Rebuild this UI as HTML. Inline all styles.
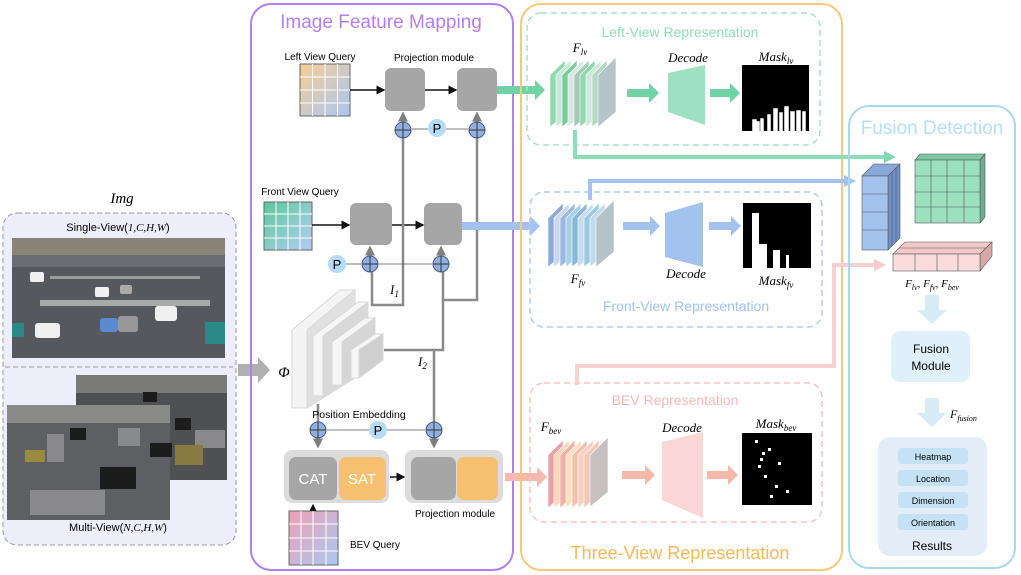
<!DOCTYPE html>
<html><head><meta charset="utf-8"><style>
body{margin:0;background:#fff}
svg{display:block;font-family:"Liberation Sans",sans-serif}
.it{font-family:"Liberation Serif",serif;font-style:italic}
</style></head><body>
<svg width="1021" height="575" viewBox="0 0 1021 575" xmlns="http://www.w3.org/2000/svg">
<defs>
<marker id="ab" markerWidth="6" markerHeight="6" refX="5" refY="3" orient="auto"><path d="M0,0L6,3L0,6z" fill="#111"/></marker>
<marker id="ag" markerWidth="4" markerHeight="4" refX="3" refY="2" orient="auto"><path d="M0,0L4,2L0,4z" fill="#808080"/></marker>
<marker id="agr" markerWidth="3" markerHeight="3" refX="2" refY="1.5" orient="auto"><path d="M0,0L3,1.5L0,3z" fill="#7fd8ae"/></marker>
<marker id="abl" markerWidth="3" markerHeight="3" refX="2" refY="1.5" orient="auto"><path d="M0,0L3,1.5L0,3z" fill="#a4c2ee"/></marker>
<marker id="apk" markerWidth="3" markerHeight="3" refX="2" refY="1.5" orient="auto"><path d="M0,0L3,1.5L0,3z" fill="#f8cccc"/></marker>
<linearGradient id="qL" x1="0" y1="0" x2="1" y2="1"><stop offset="0" stop-color="#f7cd95"/><stop offset="1" stop-color="#a9c6f3"/></linearGradient>
<linearGradient id="qF" x1="0" y1="0" x2="1" y2="1"><stop offset="0" stop-color="#5cc89a"/><stop offset="1" stop-color="#b4cdf5"/></linearGradient>
<linearGradient id="qB" x1="0" y1="0" x2="1" y2="1"><stop offset="0" stop-color="#eea0b5"/><stop offset="1" stop-color="#aac8f0"/></linearGradient>
</defs>

<!-- Left input panel -->
<text x="122" y="203" class="it" font-size="15" text-anchor="middle">Img</text>
<rect x="3" y="213" width="233" height="332" rx="14" fill="#eeedfa" stroke="#999" stroke-dasharray="5,3"/>
<text x="118" y="231" font-size="11" text-anchor="middle">Single-View(<tspan class="it">1,C,H,W</tspan>)</text>
<rect x="12" y="238" width="213" height="120" fill="#55585c"/>
<rect x="12" y="238" width="213" height="25" fill="#8a8478"/>
<rect x="12" y="255" width="213" height="12" fill="#6a6e72"/>
<g fill="#e0e0e0">
<rect x="40" y="300" width="170" height="6" opacity="0.6"/>
<rect x="50" y="276" width="150" height="3" opacity="0.5"/>
</g>
<g fill="#f0f0f0">
<rect x="35" y="323" width="25" height="15" rx="3"/><rect x="100" y="318" width="18" height="14" rx="3" fill="#5a8ad0"/>
<rect x="118" y="316" width="20" height="16" rx="3" fill="#999"/><rect x="155" y="306" width="22" height="15" rx="3"/>
<rect x="95" y="287" width="14" height="10" rx="2"/><rect x="120" y="285" width="12" height="9" rx="2" fill="#aaa"/>
<rect x="30" y="272" width="14" height="10" rx="2"/><rect x="205" y="322" width="20" height="22" fill="#2a8a8a"/>
<rect x="12" y="323" width="12" height="14" fill="#2a8a8a"/>
</g>
<line x1="5" y1="367" x2="233" y2="367" stroke="#999" stroke-dasharray="5,3"/>
<rect x="76" y="375" width="151" height="105" fill="#4e5052"/>
<rect x="76" y="375" width="151" height="18" fill="#7a7a78"/>
<rect x="7" y="405" width="163" height="115" fill="#5d5f62"/>
<rect x="7" y="405" width="163" height="18" fill="#8a8a88"/>
<g fill="#1c1c1c"><rect x="70" y="428" width="16" height="12"/><rect x="100" y="467" width="36" height="22"/><rect x="150" y="443" width="22" height="14"/><rect x="175" y="418" width="16" height="12"/><rect x="143" y="392" width="14" height="10"/></g>
<g fill="#8a8a8c"><rect x="47" y="434" width="17" height="28"/><rect x="118" y="428" width="22" height="18"/><rect x="30" y="490" width="75" height="25"/><rect x="195" y="430" width="30" height="18"/></g>
<rect x="25" y="450" width="20" height="12" fill="#9a8a40"/><rect x="175" y="445" width="28" height="20" fill="#8a7a40"/>
<text x="118" y="531" font-size="11" text-anchor="middle">Multi-View(<tspan class="it">N,C,H,W</tspan>)</text>
<path d="M238,364 h20 v-7 l12,13 l-12,13 v-7 h-20z" fill="#b0b0b0"/>
<text x="284" y="377" class="it" font-size="15" text-anchor="middle">Φ</text>

<!-- Purple panel -->
<rect x="251" y="4" width="262" height="566" rx="20" fill="none" stroke="#b07ff0" stroke-width="2"/>
<text x="381" y="28" font-size="19" fill="#b57ef0" text-anchor="middle">Image Feature Mapping</text>

<text x="320" y="60" font-size="10" text-anchor="middle">Left View Query</text>
<rect x="300" y="64" width="50" height="52" fill="url(#qL)" stroke="#666"/>
<path d="M312.5,64v52M325,64v52M337.5,64v52M300,77h50M300,90h50M300,103h50" stroke="#fff" stroke-width="1"/>
<text x="434" y="61" font-size="10" text-anchor="middle">Projection module</text>
<rect x="385" y="68" width="40" height="43" rx="6" fill="#a6a6a6"/>
<rect x="457" y="68" width="40" height="43" rx="6" fill="#a6a6a6"/>
<line x1="350" y1="90" x2="384" y2="90" stroke="#111" stroke-width="1.5" marker-end="url(#ab)"/>
<line x1="425" y1="90" x2="456" y2="90" stroke="#111" stroke-width="1.5" marker-end="url(#ab)"/>

<text x="300" y="195" font-size="10" text-anchor="middle">Front View Query</text>
<rect x="264" y="202" width="48" height="48" fill="url(#qF)" stroke="#666"/>
<path d="M276,202v48M288,202v48M300,202v48M264,214h48M264,226h48M264,238h48" stroke="#fff"/>
<rect x="350" y="203" width="42" height="42" rx="6" fill="#a6a6a6"/>
<rect x="424" y="203" width="38" height="42" rx="6" fill="#a6a6a6"/>
<line x1="312" y1="225" x2="349" y2="225" stroke="#111" stroke-width="1.5" marker-end="url(#ab)"/>
<line x1="392" y1="225" x2="423" y2="225" stroke="#111" stroke-width="1.5" marker-end="url(#ab)"/>

<!-- gray feature lines -->
<g stroke="#8a8a8a" stroke-width="2.5" fill="none">
<path d="M403,138 V305 H372 V272"/>
<path d="M477,138 V300 H443 V272"/>
<path d="M384,350 H443 V300"/>
<path d="M434,350 V422"/>
<path d="M318,404 V422"/>
<path d="M403,122 V114" marker-end="url(#ag)"/>
<path d="M477,122 V114" marker-end="url(#ag)"/>
<path d="M370,256 V248" marker-end="url(#ag)"/>
<path d="M441,256 V248" marker-end="url(#ag)"/>
<path d="M318,438 V446" marker-end="url(#ag)"/>
<path d="M434,438 V446" marker-end="url(#ag)"/>
</g>
<g stroke="#555" stroke-width="0.8">
<line x1="428" y1="129" x2="412" y2="129"/><line x1="446" y1="129" x2="468" y2="129"/>
<line x1="346" y1="264" x2="361" y2="264"/><line x1="379" y1="264" x2="432" y2="264"/>
<line x1="369" y1="430" x2="327" y2="430"/><line x1="387" y1="430" x2="425" y2="430"/>
</g>
<g fill="#8fb0e0" stroke="#4a5a80" stroke-width="1">
<circle cx="403" cy="130" r="8"/><circle cx="477" cy="130" r="8"/>
<circle cx="370" cy="264" r="8"/><circle cx="441" cy="264" r="8"/>
<circle cx="318" cy="430" r="8"/><circle cx="434" cy="430" r="8"/>
</g>
<path d="M395,130h16M403,122v16M469,130h16M477,122v16M362,264h16M370,256v16M433,264h16M441,256v16M310,430h16M318,422v16M426,430h16M434,422v16" stroke="#333" stroke-width="1"/>
<g fill="#b6dcf5"><circle cx="437" cy="128" r="9"/><circle cx="337" cy="264" r="9"/><circle cx="378" cy="430" r="9"/></g>
<g font-size="13" text-anchor="middle"><text x="437" y="133">P</text><text x="337" y="269">P</text><text x="378" y="435">P</text></g>
<text x="390" y="294" class="it" font-size="13">I<tspan font-size="9" dy="3">1</tspan></text>
<text x="418" y="366" class="it" font-size="13">I<tspan font-size="9" dy="3">2</tspan></text>

<!-- backbone -->
<g stroke="#d8d8d8" stroke-width="1">
<path d="M292,330 L340,290 L355,290 L307,330 V408 L292,408Z" fill="#f4f4f4"/>
<path d="M307,330 L355,290 V378 L307,408Z" fill="#e0e0e0"/>
<path d="M313,336 L358,302 L368,302 L323,336 V396 L313,396Z" fill="#f6f6f6"/>
<path d="M323,336 L368,302 V368 L323,396Z" fill="#d9d9d9"/>
<path d="M332,342 L365,318 L375,318 L342,342 V385 L332,385Z" fill="#f6f6f6"/>
<path d="M342,342 L375,318 V362 L342,385Z" fill="#d6d6d6"/>
<path d="M351,350 L375,334 L383,334 L359,350 V378 L351,378Z" fill="#f6f6f6"/>
<path d="M359,350 L383,334 V360 L359,378Z" fill="#cfcfcf"/>
</g>
<text x="359" y="418" font-size="10.5" text-anchor="middle">Position Embedding</text>

<rect x="284" y="450" width="105" height="53" rx="8" fill="#dcdcdc"/>
<rect x="289" y="457" width="48" height="43" rx="7" fill="#a6a6a6"/>
<rect x="339" y="457" width="47" height="43" rx="7" fill="#f7c070"/>
<text x="313" y="484" font-size="15" fill="#fff" text-anchor="middle">CAT</text>
<text x="362" y="484" font-size="15" fill="#fff" text-anchor="middle">SAT</text>
<line x1="390" y1="477" x2="404" y2="477" stroke="#111" stroke-width="1.5" marker-end="url(#ab)"/>
<rect x="405" y="450" width="98" height="53" rx="8" fill="#dcdcdc"/>
<rect x="411" y="457" width="45" height="43" rx="7" fill="#a6a6a6"/>
<rect x="457" y="457" width="41" height="43" rx="7" fill="#f7c070"/>
<text x="455" y="517" font-size="10" text-anchor="middle">Projection module</text>
<rect x="289" y="511" width="49" height="54" fill="url(#qB)" stroke="#666"/>
<path d="M301,511v54M313,511v54M326,511v54M289,524h49M289,538h49M289,551h49" stroke="#fff"/>
<line x1="313" y1="510" x2="313" y2="505" stroke="#111" stroke-width="1.2" marker-end="url(#ab)"/>
<text x="375" y="548" font-size="10" text-anchor="middle">BEV Query</text>

<!-- connector bars -->
<path d="M497,86h38v-6l10,10l-10,10v-6h-38z" fill="#6fd3a5"/>
<path d="M462,222h68v-6l10,10l-10,10v-6h-68z" fill="#a4c2ee"/>
<path d="M505,473h32v-6l10,10l-10,10v-6h-32z" fill="#f6b8b0"/>

<!-- Orange panel -->
<rect x="521" y="4" width="321" height="566" rx="20" fill="none" stroke="#f8c97a" stroke-width="2"/>
<text x="680" y="559" font-size="18" fill="#f6b955" text-anchor="middle">Three-View Representation</text>

<!-- Left view -->
<rect x="527" y="13" width="293" height="132" rx="14" fill="none" stroke="#a7e3c8" stroke-width="1.5" stroke-dasharray="6,4"/>
<text x="680" y="37" font-size="14" fill="#8fdcb8" text-anchor="middle">Left-View Representation</text>
<g stroke="#fff" stroke-width="0.6">
<path d="M550,75 l15,-15 v55 l-15,12z" fill="#8fd8b0"/>
<path d="M556,75 l15,-15 v55 l-15,12z" fill="#c8e8d8"/>
<path d="M562,75 l15,-15 v55 l-15,12z" fill="#7cc9a0"/>
<path d="M568,75 l15,-15 v55 l-15,12z" fill="#d5e9dc"/>
<path d="M574,75 l15,-15 v55 l-15,12z" fill="#a8c8b8"/>
<path d="M580,75 l15,-15 v55 l-15,12z" fill="#8fd8b0"/>
<path d="M586,75 l15,-15 v55 l-15,12z" fill="#d0e8dc"/>
<path d="M592,75 l15,-15 v55 l-15,12z" fill="#b5d8c5"/>
<path d="M598,75 l18,-18 v55 l-18,15z" fill="#b5c4c8"/>
</g>
<text x="580" y="52" class="it" font-size="13" text-anchor="middle">F<tspan font-size="9" dy="3">lv</tspan></text>
<path d="M627,89h22v-6l10,10l-10,10v-6h-22z" fill="#6fd3a5"/>
<path d="M668,73 L705,65 V125 L668,112Z" fill="#9de0c2"/>
<text x="688" y="62" class="it" font-size="13" text-anchor="middle">Decode</text>
<path d="M710,89h20v-6l10,10l-10,10v-6h-20z" fill="#6fd3a5"/>
<rect x="742" y="65" width="67" height="66" fill="#000"/>
<path d="M753,131v-11h3v11M757,131v-9h2v9M761,131v-12h2v12M768,131v-16h2v16M774,131v-22h3v22M780,131v-18h2v18M785,131v-24h3v24M791,131v-19h3v19M797,131v-20h3v20M803,131v-19h2v19" fill="#fff" stroke="#fff" stroke-width="1.5"/>
<text x="776" y="61" class="it" font-size="13" text-anchor="middle">Mask<tspan font-size="9" dy="3">lv</tspan></text>
<path d="M575,130 V157 H892" stroke="#8fdcb8" stroke-width="4" fill="none" marker-end="url(#agr)"/>

<!-- Front view -->
<rect x="530" y="192" width="292" height="135" rx="14" fill="none" stroke="#b3cbf2" stroke-width="1.5" stroke-dasharray="6,4"/>
<text x="686" y="311" font-size="14" fill="#a4c2ee" text-anchor="middle">Front-View Representation</text>
<g stroke="#fff" stroke-width="0.6">
<path d="M548,218 l15,-15 v52 l-15,12z" fill="#8fa8d8"/>
<path d="M554,218 l15,-15 v52 l-15,12z" fill="#c8d8f0"/>
<path d="M560,218 l15,-15 v52 l-15,12z" fill="#9ab8e0"/>
<path d="M566,218 l15,-15 v52 l-15,12z" fill="#a8d0e8"/>
<path d="M572,218 l15,-15 v52 l-15,12z" fill="#88b8d8"/>
<path d="M578,218 l15,-15 v52 l-15,12z" fill="#c8dcf0"/>
<path d="M584,218 l15,-15 v52 l-15,12z" fill="#9cc8e0"/>
<path d="M590,218 l15,-15 v52 l-15,12z" fill="#c0dcec"/>
<path d="M596,218 l18,-18 v52 l-18,15z" fill="#b5c2c8"/>
</g>
<text x="578" y="283" class="it" font-size="13" text-anchor="middle">F<tspan font-size="9" dy="3">fv</tspan></text>
<path d="M623,222h27v-6l10,10l-10,10v-6h-27z" fill="#a4c2ee"/>
<path d="M665,213 L703,202 V267 L665,257Z" fill="#a4c2ee"/>
<text x="686" y="278" class="it" font-size="13" text-anchor="middle">Decode</text>
<path d="M709,222h22v-6l10,10l-10,10v-6h-22z" fill="#a4c2ee"/>
<rect x="743" y="203" width="68" height="65" fill="#000"/>
<path d="M752,268V213h7V244h8v24M773,268v-18h7v18M786,268v-13h3v13" fill="#fff"/>
<text x="776" y="285" class="it" font-size="13" text-anchor="middle">Mask<tspan font-size="9" dy="3">fv</tspan></text>
<path d="M590,200 V181 H852" stroke="#a4c2ee" stroke-width="4" fill="none" marker-end="url(#abl)"/>

<!-- BEV -->
<rect x="530" y="383" width="292" height="139" rx="14" fill="none" stroke="#f6c4c4" stroke-width="1.5" stroke-dasharray="6,4"/>
<text x="675" y="405" font-size="14" fill="#f6b8b8" text-anchor="middle">BEV Representation</text>
<g stroke="#fff" stroke-width="0.6">
<path d="M548,455 l15,-15 v55 l-15,13z" fill="#eaa0a8"/>
<path d="M554,455 l15,-15 v55 l-15,13z" fill="#f8d8b8"/>
<path d="M560,455 l15,-15 v55 l-15,13z" fill="#f0b0a8"/>
<path d="M566,455 l15,-15 v55 l-15,13z" fill="#f8e0c0"/>
<path d="M572,455 l15,-15 v55 l-15,13z" fill="#f0c0b0"/>
<path d="M578,455 l15,-15 v55 l-15,13z" fill="#f8d0c0"/>
<path d="M584,455 l15,-15 v55 l-15,13z" fill="#f4c8b8"/>
<path d="M590,455 l18,-18 v55 l-18,15z" fill="#c8c0c0"/>
</g>
<text x="551" y="431" class="it" font-size="13" text-anchor="middle">F<tspan font-size="9" dy="3">bev</tspan></text>
<path d="M622,471h23v-6l10,10l-10,10v-6h-23z" fill="#f6b8a8"/>
<path d="M662,442 L703,432 V518 L662,500Z" fill="#fad6d6"/>
<text x="682" y="432" class="it" font-size="13" text-anchor="middle">Decode</text>
<path d="M707,471h21v-6l10,10l-10,10v-6h-21z" fill="#f6b8a8"/>
<rect x="742" y="433" width="70" height="72" fill="#000"/>
<g fill="#fff"><rect x="755" y="440" width="3" height="3"/><rect x="762" y="452" width="3" height="3"/><rect x="768" y="448" width="3" height="3"/><rect x="758" y="465" width="3" height="3"/><rect x="764" y="475" width="3" height="3"/><rect x="778" y="462" width="3" height="3"/><rect x="775" y="485" width="3" height="3"/><rect x="770" y="495" width="3" height="3"/><rect x="786" y="490" width="3" height="3"/><rect x="760" y="458" width="3" height="3"/></g>
<text x="776" y="428" class="it" font-size="13" text-anchor="middle">Mask<tspan font-size="9" dy="3">bev</tspan></text>
<path d="M577,385 V366 H834 V265 H882" stroke="#f8d0d0" stroke-width="4" fill="none" marker-end="url(#apk)"/>

<!-- Fusion panel -->
<rect x="849" y="106" width="166" height="462" rx="20" fill="none" stroke="#a8d8f0" stroke-width="2"/>
<text x="932" y="134" font-size="19" fill="#b6dff5" text-anchor="middle">Fusion Detection</text>
<path d="M915,160 l5,-6 h65 l-5,6z" fill="#7dc8a4" stroke="#555" stroke-width="0.6"/>
<path d="M980,160 l5,-6 v63 l-5,6z" fill="#6ab090" stroke="#555" stroke-width="0.6"/>
<rect x="915" y="160" width="65" height="63" fill="#9de0c0" stroke="#555" stroke-width="0.6"/>
<path d="M931,160v63M947,160v63M964,160v63M915,176h65M915,192h65M915,207h65" stroke="#555" stroke-width="0.6"/>
<path d="M862,176 l12,-12 h26 l-12,12z" fill="#8aa8d8" stroke="#555" stroke-width="0.6"/>
<path d="M888,176 l12,-12 v74 l-12,12z" fill="#7090c8" stroke="#555" stroke-width="0.6"/>
<rect x="862" y="176" width="26" height="74" fill="#a4c2ee" stroke="#555" stroke-width="0.6"/>
<path d="M862,194h26M862,212h26M862,230h26M892,172v74M896,168v74" stroke="#555" stroke-width="0.6"/>
<path d="M893,254 l12,-12 h87 l-12,12z" fill="#f0c8c8" stroke="#555" stroke-width="0.6"/>
<path d="M980,254 l12,-12 v14 l-12,15z" fill="#d8a8a8" stroke="#555" stroke-width="0.6"/>
<rect x="893" y="254" width="87" height="17" fill="#fadcdc" stroke="#555" stroke-width="0.6"/>
<path d="M915,254v17M937,254v17M958,254v17M899,248h87" stroke="#555" stroke-width="0.6"/>
<text x="932" y="287" class="it" font-size="11" text-anchor="middle">F<tspan font-size="8" dy="3">lv</tspan><tspan dy="-3">, F</tspan><tspan font-size="8" dy="3">fv</tspan><tspan dy="-3">, F</tspan><tspan font-size="8" dy="3">bev</tspan></text>
<path d="M925,295h14v15h8l-15,14l-15,-14h8z" fill="#d8ecf8"/>
<rect x="891" y="331" width="79" height="51" rx="9" fill="#dff0fa"/>
<text x="931" y="353" font-size="12" text-anchor="middle">Fusion</text>
<text x="931" y="370" font-size="12" text-anchor="middle">Module</text>
<path d="M925,398h14v15h8l-15,14l-15,-14h8z" fill="#d8ecf8"/>
<text x="950" y="418" class="it" font-size="12">F<tspan font-size="8" dy="3">fusion</tspan></text>
<rect x="878" y="437" width="109" height="119" rx="12" fill="#e4ecf8"/>
<g fill="#c4e2f4"><rect x="898" y="448" width="70" height="16" rx="3"/><rect x="898" y="470" width="70" height="16" rx="3"/><rect x="898" y="492" width="70" height="16" rx="3"/><rect x="898" y="514" width="70" height="16" rx="3"/></g>
<g font-size="9" text-anchor="middle"><text x="933" y="460">Heatmap</text><text x="933" y="482">Location</text><text x="933" y="504">Dimension</text><text x="933" y="526">Orientation</text></g>
<text x="932" y="550" font-size="12" text-anchor="middle">Results</text>
</svg>
</body></html>
